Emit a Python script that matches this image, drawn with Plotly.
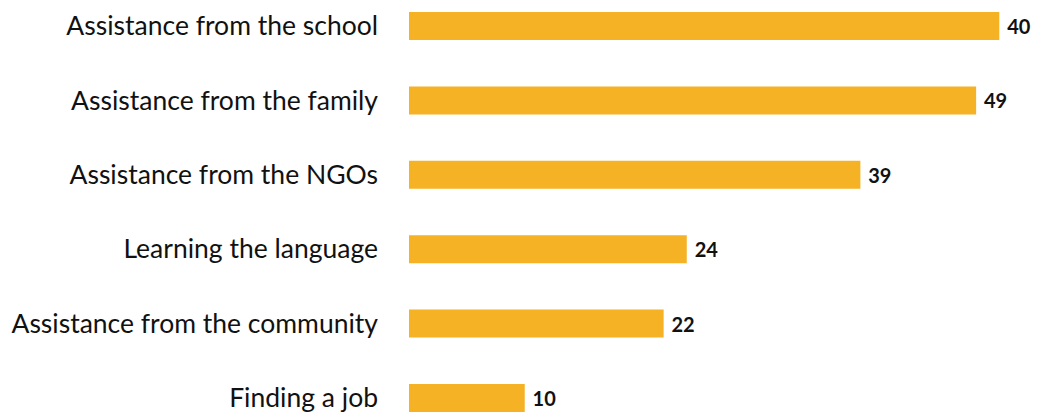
import plotly.graph_objects as go

categories = [
    "Assistance from the school",
    "Assistance from the family",
    "Assistance from the NGOs",
    "Learning the language",
    "Assistance from the community",
    "Finding a job",
]
values = [51, 49, 39, 24, 22, 10]
value_labels = ["40", "49", "39", "24", "22", "10"]

BAR_COLOR = "#F4B224"

fig = go.Figure(
    go.Bar(
        x=values,
        y=categories,
        orientation="h",
        marker=dict(color=BAR_COLOR, line=dict(width=0)),
        width=0.376,
        text=value_labels,
        texttemplate="\u00a0%{text}",
        textposition="outside",
        cliponaxis=False,
        textfont=dict(family="Lato", size=20, color="#111111", weight="bold"),
    )
)

fig.update_layout(
    width=1033,
    height=412,
    margin=dict(l=401, r=7, t=0, b=0),
    paper_bgcolor="white",
    plot_bgcolor="white",
    showlegend=False,
    font=dict(family="Lato", color="#111111"),
)
fig.update_xaxes(
    range=[0, 54],
    visible=False,
    showgrid=False,
    zeroline=False,
)
fig.update_yaxes(
    categoryorder="array",
    categoryarray=categories,
    range=[5.296, -0.242],
    showgrid=False,
    zeroline=False,
    showline=False,
    ticks="",
    ticklabelstandoff=30,
    tickfont=dict(family="Lato", size=26.5, color="#111111"),
)

fig.write_html("out.html")
